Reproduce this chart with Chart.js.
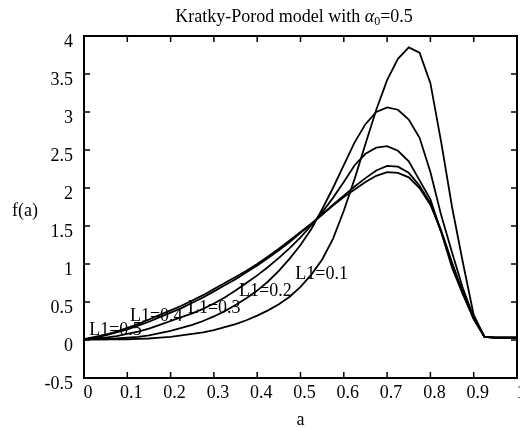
<!DOCTYPE html>
<html>
<head>
<meta charset="utf-8">
<script src="https://cdn.jsdelivr.net/npm/chart.js@4.4.1/dist/chart.umd.min.js"></script>
<style>
  html, body { margin: 0; padding: 0; background: #fff; }
</style>
</head>
<body>
<canvas id="kpChart" width="520" height="428"></canvas>
<script>
// a values (sampled every 0.025)
const aValues = [0, 0.025, 0.05, 0.075, 0.1, 0.125, 0.15, 0.175, 0.2, 0.225, 0.25, 0.275, 0.3, 0.325, 0.35, 0.375, 0.4, 0.425, 0.45, 0.475,
  0.5, 0.525, 0.55, 0.575, 0.6, 0.625, 0.65, 0.675, 0.7, 0.725, 0.75, 0.775, 0.8, 0.825, 0.85, 0.875, 0.9, 0.925, 0.95, 0.975, 1];

// f(a) for each L1
const fL1_01 = [0.01, 0.01, 0.01, 0.01, 0.01, 0.015, 0.02, 0.03, 0.04, 0.06, 0.08, 0.10, 0.13, 0.17, 0.21, 0.26, 0.32, 0.39, 0.47, 0.57,
  0.70, 0.86, 1.06, 1.33, 1.70, 2.12, 2.58, 3.03, 3.42, 3.70, 3.85, 3.78, 3.38, 2.60, 1.75, 1.02, 0.33, 0.04, 0.03, 0.03, 0.03];
const fL1_02 = [0.01, 0.01, 0.01, 0.02, 0.03, 0.04, 0.06, 0.09, 0.12, 0.16, 0.20, 0.25, 0.31, 0.38, 0.46, 0.55, 0.65, 0.77, 0.91, 1.07,
  1.25, 1.46, 1.72, 2.00, 2.30, 2.60, 2.84, 3.00, 3.06, 3.03, 2.90, 2.66, 2.21, 1.64, 1.15, 0.68, 0.30, 0.04, 0.03, 0.03, 0.03];
const fL1_03 = [0.01, 0.02, 0.03, 0.05, 0.08, 0.11, 0.15, 0.20, 0.25, 0.30, 0.35, 0.41, 0.48, 0.56, 0.65, 0.75, 0.85, 0.96, 1.08, 1.21,
  1.35, 1.51, 1.68, 1.87, 2.08, 2.30, 2.45, 2.53, 2.55, 2.49, 2.35, 2.10, 1.85, 1.42, 0.95, 0.60, 0.28, 0.04, 0.03, 0.03, 0.03];
const fL1_04 = [0.01, 0.03, 0.06, 0.10, 0.14, 0.19, 0.24, 0.30, 0.36, 0.42, 0.49, 0.56, 0.64, 0.72, 0.80, 0.89, 0.98, 1.08, 1.18, 1.29,
  1.41, 1.53, 1.65, 1.78, 1.90, 2.02, 2.13, 2.23, 2.29, 2.28, 2.20, 2.03, 1.80, 1.42, 1.00, 0.62, 0.28, 0.04, 0.03, 0.03, 0.03];
const fL1_05 = [0.01, 0.04, 0.07, 0.11, 0.16, 0.21, 0.27, 0.33, 0.39, 0.45, 0.52, 0.59, 0.67, 0.75, 0.83, 0.91, 1.00, 1.10, 1.20, 1.31,
  1.42, 1.53, 1.65, 1.77, 1.88, 1.98, 2.08, 2.16, 2.21, 2.20, 2.14, 2.00, 1.78, 1.44, 1.02, 0.62, 0.28, 0.04, 0.03, 0.03, 0.03];

const seriesNames = ['L1=0.1', 'L1=0.2', 'L1=0.3', 'L1=0.4', 'L1=0.5'];
const seriesValues = [fL1_01, fL1_02, fL1_03, fL1_04, fL1_05];

// where each curve label sits (data coords of the text's left baseline)
const labelA = [0.488, 0.358, 0.240, 0.106, 0.012];
const labelF = [0.80, 0.58, 0.355, 0.25, 0.07];

const serif = '"Liberation Serif", "Times New Roman", serif';

const datasets = seriesNames.map((name, i) => ({
  label: name,
  data: aValues.map((a, j) => ({ x: a, y: seriesValues[i][j] })),
  borderColor: '#000',
  borderWidth: 1.8,
  pointRadius: 0,
  tension: 0,
  fill: false
}));

// frame, inward ticks, titles and curve labels
const paperPlugin = {
  id: 'paper',
  afterDraw(chart) {
    const ctx = chart.ctx;
    const area = chart.chartArea;
    const xs = chart.scales.x, ys = chart.scales.y;
    ctx.save();
    ctx.strokeStyle = '#000';
    ctx.lineWidth = 2;
    ctx.strokeRect(area.left, area.top, area.right - area.left, area.bottom - area.top);

    ctx.lineWidth = 1.5;
    ctx.beginPath();
    xs.ticks.forEach(t => {
      const px = xs.getPixelForValue(t.value);
      ctx.moveTo(px, area.bottom); ctx.lineTo(px, area.bottom - 6);
      ctx.moveTo(px, area.top); ctx.lineTo(px, area.top + 6);
    });
    ys.ticks.forEach(t => {
      const py = ys.getPixelForValue(t.value);
      ctx.moveTo(area.left, py); ctx.lineTo(area.left + 6, py);
      ctx.moveTo(area.right, py); ctx.lineTo(area.right - 6, py);
    });
    ctx.stroke();

    ctx.fillStyle = '#000';
    ctx.textBaseline = 'alphabetic';

    // title with italic alpha and subscript 0
    const partA = 'Kratky-Porod model with ';
    const partB = '\u03b1';
    const partC = '0';
    const partD = '=0.5';
    ctx.font = '18px ' + serif;
    const wA = ctx.measureText(partA).width, wD = ctx.measureText(partD).width;
    ctx.font = 'italic 18px ' + serif;
    const wB = ctx.measureText(partB).width;
    ctx.font = '12px ' + serif;
    const wC = ctx.measureText(partC).width;
    let tx = 294 - (wA + wB + wC + wD) / 2;
    const ty = 22;
    ctx.font = '18px ' + serif;
    ctx.fillText(partA, tx, ty); tx += wA;
    ctx.font = 'italic 18px ' + serif;
    ctx.fillText(partB, tx, ty); tx += wB;
    ctx.font = '12px ' + serif;
    ctx.fillText(partC, tx, ty + 3); tx += wC;
    ctx.font = '18px ' + serif;
    ctx.fillText(partD, tx, ty);

    // axis titles
    ctx.textAlign = 'left';
    ctx.fillText('f(a)', 12, 216);
    ctx.textAlign = 'center';
    ctx.fillText('a', (area.left + area.right) / 2, 425);

    // curve labels
    ctx.textAlign = 'left';
    seriesNames.forEach((name, i) => {
      ctx.fillText(name, xs.getPixelForValue(labelA[i]), ys.getPixelForValue(labelF[i]));
    });
    ctx.restore();
  }
};

const ctx = document.getElementById('kpChart').getContext('2d');
const kpChart = new Chart(ctx, {
  type: 'line',
  data: { datasets: datasets },
  options: {
    responsive: false,
    animation: false,
    layout: { padding: { top: 36, right: 3, bottom: 0, left: 0 } },
    plugins: {
      legend: { display: false },
      tooltip: { enabled: false },
      title: { display: false }
    },
    scales: {
      x: {
        type: 'linear',
        min: 0,
        max: 1,
        grid: { display: false, drawTicks: false },
        border: { display: false },
        ticks: {
          stepSize: 0.1,
          maxRotation: 0,
          padding: 4,
          labelOffset: 4,
          color: '#000',
          font: { family: serif, size: 18 },
          callback: v => String(Math.round(v * 10) / 10)
        },
        afterFit(s) { s.height = 50; s.paddingLeft = 0; s.paddingRight = 0; }
      },
      y: {
        min: -0.5,
        max: 4,
        grid: { display: false, drawTicks: false },
        border: { display: false },
        ticks: {
          stepSize: 0.5,
          padding: 11,
          labelOffset: 6,
          color: '#000',
          font: { family: serif, size: 18 },
          callback: v => String(Math.round(v * 10) / 10)
        },
        afterFit(s) { s.width = 84; s.paddingTop = 0; s.paddingBottom = 0; }
      }
    }
  },
  plugins: [paperPlugin]
});
</script>
</body>
</html>
